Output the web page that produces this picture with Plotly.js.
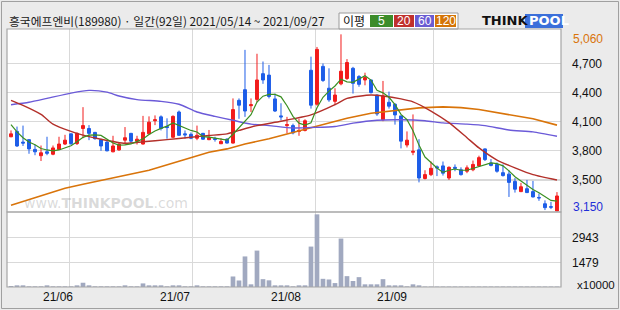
<!DOCTYPE html>
<html><head><meta charset="utf-8">
<script src="https://cdn.plot.ly/plotly-3.0.1.min.js"></script>
<style>html,body{margin:0;padding:0;background:#ebebeb}</style>
</head><body><div id="chart" style="width:620px;height:310px"></div>
<script>
// ---- data ----
const title = "흥국에프엔비(189980) · 일간(92일) 2021/05/14 ~ 2021/09/27";
const monthLabels = ["21/06", "21/07", "21/08", "21/09"];
const openP  = [3945,4000,3890,3915,3815,3750,3790,3765,3815,3870,3975,3875,4030,4030,3990,3915,3890,3790,3810,3910,
                3980,3900,3870,3975,4110,4150,4050,3940,4200,3975,3970,3930,3980,3915,3925,3873,3920,3880,4320,4430,
                4265,4330,4595,4580,4335,4160,4060,4060,4000,4010,4630,4280,4670,4445,4310,4490,4545,4650,4565,4530,
                4530,4375,4120,4300,4280,4160,3860,3785,3810,3515,3555,3635,3645,3520,3630,3605,3590,3605,3645,3820,
                3675,3660,3575,3560,3485,3380,3410,3380,3320,3255,3225,3180];
const highP  = [4010,4050,4060,3920,3865,3855,3945,3855,3945,3965,3980,3990,4250,4065,3995,3925,3900,3955,3880,4045,
                3985,3955,4160,4155,4165,4165,4135,4165,4215,4010,3990,4060,3985,4015,3945,3930,3930,4340,4340,4840,
                4340,4800,4720,4685,4390,4290,4150,4080,4130,4125,4770,4870,4700,4650,4445,5000,4745,4665,4580,4605,
                4530,4380,4520,4410,4290,4160,4000,4175,3920,3600,3690,3650,3690,3640,3660,3630,3650,3700,3750,3825,
                3715,3680,3660,3600,3520,3470,3500,3490,3360,3290,3275,3375];
const lowP   = [3940,3840,3850,3770,3755,3695,3755,3755,3810,3860,3860,3860,3930,3910,3915,3800,3795,3785,3800,3865,
                3880,3865,3865,3970,4065,4010,3925,3930,3955,3925,3920,3910,3915,3910,3895,3870,3875,3875,4130,4150,
                4200,4300,4490,4340,4200,4115,3980,3970,3955,4000,4235,4265,4510,4305,4270,4475,4530,4390,4460,4475,
                4390,4160,4105,4235,4070,3825,3835,3755,3475,3505,3540,3540,3545,3500,3590,3545,3570,3590,3640,3695,
                3640,3575,3535,3325,3370,3375,3365,3320,3285,3190,3200,3180];
const closeP = [3975,3850,3880,3820,3790,3780,3775,3830,3870,3910,3875,3980,4060,3980,3925,3850,3800,3850,3870,3935,
                3900,3920,3990,4095,4120,4030,4040,4155,3960,3965,3930,3960,3920,3935,3918,3897,3880,4225,4270,4210,
                4275,4530,4530,4360,4210,4150,4070,3985,4010,4110,4270,4845,4525,4325,4375,4620,4710,4495,4485,4555,
                4400,4180,4365,4260,4170,3900,3910,3795,3520,3555,3620,3625,3570,3630,3620,3555,3625,3660,3730,3710,
                3650,3590,3545,3475,3405,3430,3370,3325,3315,3215,3220,3335];
// volume, units of 10,000 shares
const volume = [60,100,100,40,40,40,100,40,40,40,40,100,255,100,40,40,40,40,40,100,
                40,40,215,100,100,100,40,100,100,40,40,100,40,40,40,40,40,630,390,1830,
                160,2180,470,400,100,100,100,40,100,100,2420,4350,490,450,235,2900,650,360,590,160,
                160,160,470,100,100,100,40,160,100,30,30,30,30,30,30,30,30,30,30,30,
                30,30,30,30,30,30,30,30,30,30,30,30];
// first four 5-day average values (need days before the window)
const ma5Head = [4070, 3995, 3935, 3890];
// 20/60/120-day averages at sample days
const ma20Day = [0,2,5,7,10,12,15,19,22,26,30,33,36,38,41,45,50,54,56,60,62,65,67,70,73,76,78,81,84,87,91];
const ma20Val = [4320,4268,4175,4075,4000,3962,3920,3878,3893,3915,3940,3958,3975,4010,4060,4105,4170,4275,4340,4375,4365,4335,4305,4210,4090,3935,3830,3705,3625,3555,3500];
const ma60Day = [0,3,6,10,13,16,18,21,25,28,31,34,37,40,43,47,50,54,57,61,65,69,72,76,79,83,87,91];
const ma60Val = [4275,4300,4340,4395,4423,4405,4365,4328,4310,4280,4200,4155,4115,4075,4060,4035,4040,4050,4085,4115,4120,4110,4088,4075,4060,4015,3995,3950];
const ma120Day = [0,5,9,12,15,20,23,28,33,36,39,43,46,50,53,56,60,64,68,72,75,78,81,84,87,91];
const ma120Val = [3240,3335,3415,3455,3495,3560,3600,3692,3785,3820,3870,3925,3975,4040,4090,4135,4188,4215,4243,4253,4245,4226,4195,4165,4130,4065];
const priceTicks = [3500, 3800, 4100, 4400, 4700];
const volTicks = [1479, 2943];
const maNames = ["5", "20", "60", "120"];
const topLabel = "5,060", bottomLabel = "3,150", volUnit = "x10000";

// ---- derived ----
const idx = closeP.map((_, i) => i);
const ma5 = closeP.map((_, i) => {
  if (i < 4) return ma5Head[i];
  let s = 0; for (let k = i - 4; k <= i; k++) s += closeP[k];
  return s / 5;
});

// ---- geometry helpers (pixel -> paper) ----
const L = 7, R = 561, T = 29, B = 287;
const px = x => (x - L) / (R - L);
const py = y => (B - y) / (B - T);
const priceBottom = 212;

const C = {up:'#f21c1c', down:'#1e5ee8', ma5:'#3a8f22', ma20:'#b3302a', ma60:'#6b5ad8', ma120:'#d9740a', vol:'#a1a9c0', grid:'#d9d9d9', frame:'#a6a6a6'};

const traces = [
  {type:'scatter', mode:'lines', x:ma120Day, y:ma120Val, line:{color:C.ma120, width:1.6}, hoverinfo:'skip', xaxis:'x', yaxis:'y'},
  {type:'scatter', mode:'lines', x:ma60Day, y:ma60Val, line:{color:C.ma60, width:1.4, shape:'spline', smoothing:0.6}, hoverinfo:'skip', xaxis:'x', yaxis:'y'},
  {type:'scatter', mode:'lines', x:ma20Day, y:ma20Val, line:{color:C.ma20, width:1.4, shape:'spline', smoothing:0.6}, hoverinfo:'skip', xaxis:'x', yaxis:'y'},
  {type:'scatter', mode:'lines', x:idx, y:ma5, line:{color:C.ma5, width:1.2}, hoverinfo:'skip', xaxis:'x', yaxis:'y'},
  {type:'candlestick', x:idx, open:openP, high:highP, low:lowP, close:closeP, xaxis:'x', yaxis:'y',
   increasing:{line:{color:C.up, width:1}, fillcolor:C.up},
   decreasing:{line:{color:C.down, width:1}, fillcolor:C.down}, whiskerwidth:0},
  {type:'bar', x:idx, y:volume, marker:{color:C.vol, line:{width:0}}, width:0.78, xaxis:'x', yaxis:'y2', hoverinfo:'skip'}
];

const gridX = [9.72, 30.28, 50.78, 70.38];
const labelX = [7.9, 27.3, 45.8, 63.5];
const fnt = 'Liberation Sans, Arial, sans-serif';
const kfnt = 'Noto Sans CJK KR, sans-serif';

// legend swatches: [left, right, colour, text centre]
const legendBoxes = [[370, 393, '#3c8c2a'], [394, 414, '#c0302c'], [415, 434, '#6a5cd2'], [435, 456, '#d47406']];

const annotations = [
  {text:title, xref:'paper', yref:'paper', x:px(7), y:py(21), xanchor:'left', yanchor:'middle', showarrow:false, font:{family:kfnt, size:11.8, color:'#1a1a1a'}},
  {text:topLabel, xref:'paper', yref:'paper', x:px(571), y:py(39), xanchor:'left', yanchor:'middle', showarrow:false, font:{family:fnt, size:12, color:'#d9740a'}},
  {text:bottomLabel, xref:'paper', yref:'paper', x:px(571), y:py(207), xanchor:'left', yanchor:'middle', showarrow:false, font:{family:fnt, size:12, color:'#1f2fd8'}},
  {text:volUnit, xref:'paper', yref:'paper', x:px(575), y:py(285), xanchor:'left', yanchor:'middle', showarrow:false, font:{family:fnt, size:11.5, color:'#111'}},
  {text:'이평', xref:'paper', yref:'paper', x:px(354), y:py(21), xanchor:'center', yanchor:'middle', showarrow:false, font:{family:kfnt, size:12, color:'#111'}},
  // logo
  {text:'<b>THINK</b>', xref:'paper', yref:'paper', x:px(480), y:py(21), xanchor:'left', yanchor:'middle', showarrow:false, font:{family:'DejaVu Sans, sans-serif', size:13, color:'#111'}},
  {text:'<b>POOL</b>', xref:'paper', yref:'paper', x:px(527), y:py(21), xanchor:'left', yanchor:'middle', showarrow:false, font:{family:'DejaVu Sans, sans-serif', size:13, color:'#fff'}},
  // watermark
  {text:'www.<b>THINKPOOL</b>.com', xref:'paper', yref:'paper', x:px(22), y:py(203), xanchor:'left', yanchor:'middle', showarrow:false, font:{family:'DejaVu Sans, sans-serif', size:14, color:'rgba(150,150,150,0.35)'}}
];
legendBoxes.forEach((b, k) => annotations.push({text:maNames[k], xref:'paper', yref:'paper', x:px((b[0] + b[1]) / 2), y:py(21), xanchor:'center', yanchor:'middle', showarrow:false, font:{family:fnt, size:12, color:'#fff'}}));
monthLabels.forEach((t, k) => annotations.push({text:t, xref:'x', yref:'paper', x:labelX[k], y:py(297), xanchor:'center', yanchor:'middle', showarrow:false, font:{family:fnt, size:12, color:'#111'}}));

const shapes = [
  {type:'rect', xref:'paper', yref:'paper', x0:px(1.5), x1:px(618.5), y0:py(308.5), y1:py(1.5), line:{color:'#a0a0a0', width:1}, layer:'below'},
  {type:'rect', xref:'paper', yref:'paper', x0:px(339), x1:px(458), y0:py(13), y1:py(29), line:{color:'#9a9a9a', width:1}, fillcolor:'#ffffff', layer:'below'},
  {type:'rect', xref:'paper', yref:'paper', x0:px(525), x1:px(563), y0:py(14), y1:py(28), line:{width:0}, fillcolor:'#3b6fda'},
  {type:'rect', xref:'paper', yref:'paper', x0:0, x1:1, y0:py(priceBottom), y1:1, line:{color:C.frame, width:1.2}},
  {type:'rect', xref:'paper', yref:'paper', x0:0, x1:1, y0:0, y1:py(priceBottom), line:{color:C.frame, width:1.2}}
];
legendBoxes.forEach(b => shapes.push({type:'rect', xref:'paper', yref:'paper', x0:px(b[0]), x1:px(b[1]), y0:py(15), y1:py(27), line:{width:0}, fillcolor:b[2]}));

const layout = {
  width:620, height:310, margin:{l:L, r:620-R, t:T, b:310-B},
  paper_bgcolor:'#ebebeb', plot_bgcolor:'#ffffff', showlegend:false, dragmode:false,
  xaxis:{range:[-0.667, 91.67], tickvals:gridX, showticklabels:false, ticks:'', showgrid:true, gridcolor:C.grid, gridwidth:1.2,
         zeroline:false, showline:false, anchor:'y2', rangeslider:{visible:false}, fixedrange:true},
  yaxis:{domain:[py(priceBottom), 1], range:[3170, 5055], side:'right', tickvals:priceTicks, tickformat:',', ticks:'',
         ticklabelstandoff:10, showgrid:true, gridcolor:C.grid, gridwidth:1.2, zeroline:false, showline:false,
         tickfont:{family:fnt, size:12, color:'#111'}, fixedrange:true},
  yaxis2:{domain:[0, py(priceBottom)], range:[0, 4490], side:'right', tickvals:volTicks, ticktext:volTicks.map(String), ticks:'',
          ticklabelstandoff:10, showgrid:true, gridcolor:C.grid, gridwidth:1.2, zeroline:false, showline:false,
          tickfont:{family:fnt, size:12, color:'#111'}, fixedrange:true},
  annotations, shapes, bargap:0.2
};
Plotly.newPlot('chart', traces, layout, {displayModeBar:false, staticPlot:true});
</script></body></html>
